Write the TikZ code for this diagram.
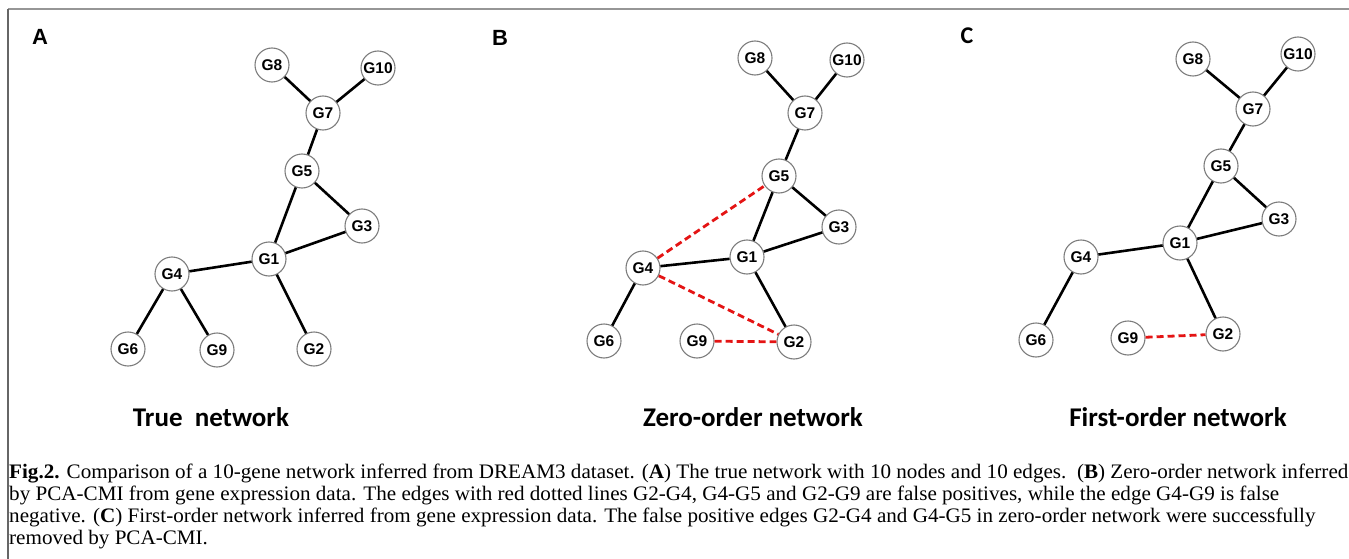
\documentclass[tikz,border=0pt]{standalone}
\usepackage{fontspec}
\setmainfont{Liberation Serif}
\newfontfamily\arialfont{Liberation Sans}
\newfontfamily\calibrifont{Carlito}
\newfontfamily\capfont[FakeStretch=1.025]{Liberation Serif}
\definecolor{ringgray}{RGB}{125,125,125}
\definecolor{framegray}{RGB}{150,150,150}
\definecolor{falsered}{RGB}{228,20,20}

\begin{document}
\begin{tikzpicture}[
        x=1pt, y=-1pt, % pixel coordinates, y downwards
        gene/.style = {circle, draw=ringgray, line width=1.1pt, fill=white,
                minimum size=34pt, inner sep=0pt,
                font=\arialfont\bfseries\fontsize{15.5}{17}\selectfont}, % gene nodes
        tp/.style = {draw, line width=2.6pt}, % true edge
        fp/.style = {draw=falsered, line width=2.8pt, dash pattern=on 7pt off 4pt}, % false edge
        panel/.style = {font=\arialfont\bfseries\fontsize{22}{24}\selectfont},
        title/.style = {font=\calibrifont\bfseries\fontsize{27}{30}\selectfont},
        legend/.style = {anchor=base west, align=left, inner sep=0pt,
                font=\capfont\fontsize{20.6}{22}\selectfont},
    ]
    \useasboundingbox (0,0) rectangle (1349,559);
    \clip (0,0) rectangle (1349,559);

    % frame
    \draw[framegray, line width=1.4pt] (8,9) -- (1349,9);
    \draw[black!60, line width=1.4pt] (8,9) -- (8,559);

    % A: true network
    \node[panel] (lA) at (40,37) {A};
    \node[gene] (a8) at (272,65) {G8};
    \node[gene] (a10) at (378,68) {G10};
    \node[gene] (a7) at (323,113) {G7};
    \node[gene] (a5) at (302,171) {G5};
    \node[gene] (a3) at (362,226) {G3};
    \node[gene] (a1) at (269,259) {G1};
    \node[gene] (a4) at (172,274) {G4};
    \node[gene] (a6) at (128,349) {G6};
    \node[gene] (a9) at (217,350) {G9};
    \node[gene] (a2) at (314,349) {G2};
    \draw[tp] (a8) -- (a7);
    \draw[tp] (a10) -- (a7);
    \draw[tp] (a7) -- (a5);
    \draw[tp] (a5) -- (a1);
    \draw[tp] (a5) -- (a3);
    \draw[tp] (a3) -- (a1);
    \draw[tp] (a1) -- (a4);
    \draw[tp] (a1) -- (a2);
    \draw[tp] (a4) -- (a6);
    \draw[tp] (a4) -- (a9);
    \node[title] (tA) at (211,417) {True~~network};

    % B: zero-order network
    \node[panel] (lB) at (500,38) {B};
    \node[gene] (b8) at (755,58) {G8};
    \node[gene] (b10) at (847,60) {G10};
    \node[gene] (b7) at (805,113) {G7};
    \node[gene] (b5) at (779,176) {G5};
    \node[gene] (b3) at (839,227) {G3};
    \node[gene] (b1) at (747,257) {G1};
    \node[gene] (b4) at (643,268) {G4};
    \node[gene] (b6) at (604,341) {G6};
    \node[gene] (b9) at (697,341) {G9};
    \node[gene] (b2) at (794,342) {G2};
    \draw[tp] (b8) -- (b7);
    \draw[tp] (b10) -- (b7);
    \draw[tp] (b7) -- (b5);
    \draw[tp] (b5) -- (b1);
    \draw[tp] (b5) -- (b3);
    \draw[tp] (b3) -- (b1);
    \draw[tp] (b1) -- (b4);
    \draw[tp] (b1) -- (b2);
    \draw[tp] (b4) -- (b6);
    \draw[fp] (b4) -- (b5);
    \draw[fp] (b4) -- (b2);
    \draw[fp] (b9) -- (b2);
    \node[title] (tB) at (753,417) {Zero-order network};

    % C: first-order network
    \node[font=\calibrifont\bfseries\fontsize{24}{26}\selectfont] (lC) at (967,36) {C};
    \node[gene] (c8) at (1193,59) {G8};
    \node[gene] (c10) at (1298,54) {G10};
    \node[gene] (c7) at (1253,109) {G7};
    \node[gene] (c5) at (1221,166) {G5};
    \node[gene] (c3) at (1279,219) {G3};
    \node[gene] (c1) at (1180,243) {G1};
    \node[gene] (c4) at (1081,257) {G4};
    \node[gene] (c6) at (1036,340) {G6};
    \node[gene] (c9) at (1128,338) {G9};
    \node[gene] (c2) at (1223,334) {G2};
    \draw[tp] (c8) -- (c7);
    \draw[tp] (c10) -- (c7);
    \draw[tp] (c7) -- (c5);
    \draw[tp] (c5) -- (c1);
    \draw[tp] (c5) -- (c3);
    \draw[tp] (c3) -- (c1);
    \draw[tp] (c1) -- (c4);
    \draw[tp] (c1) -- (c2);
    \draw[tp] (c4) -- (c6);
    \draw[fp] (c9) -- (c2);
    \node[title] (tC) at (1178,417) {First-order network};

    % caption, anchored at the baseline of its last line
    \node[legend] (cap) at (9,544) {\textbf{Fig.2.} Comparison of a 10-gene network inferred from DREAM3 dataset. (\textbf{A}) The true network with 10 nodes and 10 edges.~~(\textbf{B}) Zero-order network inferred\\
        by PCA-CMI from gene expression data. The edges with red dotted lines G2-G4, G4-G5 and G2-G9 are false positives, while the edge G4-G9 is false\\
        negative. (\textbf{C}) First-order network inferred from gene expression data. The false positive edges G2-G4 and G4-G5 in zero-order network were successfully\\
        removed by PCA-CMI.};

\end{tikzpicture}
\end{document}
